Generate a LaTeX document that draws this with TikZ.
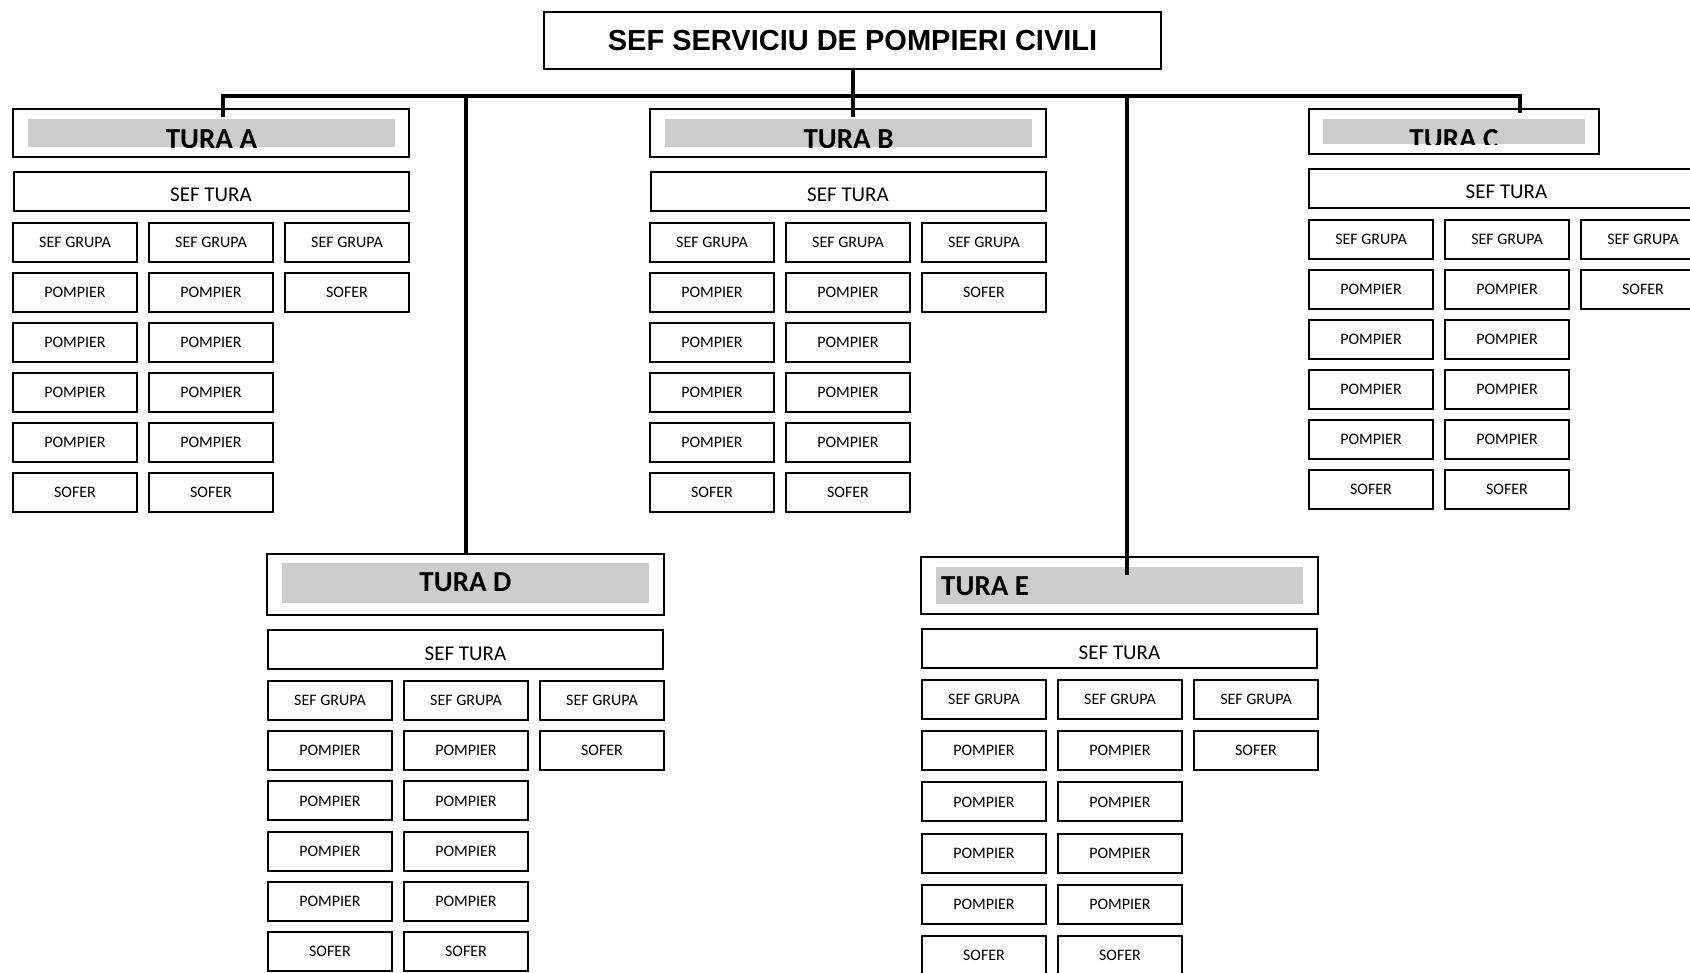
\documentclass[tikz,border=0pt]{standalone}
\usepackage{fontspec}
\setmainfont{Carlito}
\newfontfamily\arialfont{Liberation Sans}
\usepackage{tikz}
\usetikzlibrary{positioning}

\tikzset{
  boxline/.style={draw, line width=2pt, inner sep=0pt},
  cell/.style={boxline, minimum width=124pt, minimum height=39pt, font=\fontsize{16}{19}\selectfont},
  sefturabox/.style={boxline, minimum width=395pt, minimum height=39pt, text height=21pt, text depth=0pt, font=\fontsize{21}{25}\selectfont},
  turabox/.style={boxline, minimum width=396pt, minimum height=48pt},
  graybar/.style={fill=gray!40, inner sep=0pt},
  turatext/.style={inner sep=0pt, font=\bfseries\fontsize{29}{34}\selectfont},
  busline/.style={line width=4pt},
}

\newcommand{\grupe}[4]{%
  \foreach \rw/\cols in {1/{SEF GRUPA,SEF GRUPA,SEF GRUPA},2/{POMPIER,POMPIER,SOFER},3/{POMPIER,POMPIER},4/{POMPIER,POMPIER},5/{POMPIER,POMPIER},6/{SOFER,SOFER}}
    \foreach \lbl [count=\col] in \cols
      \node[cell] (#1-\rw-\col) at ({#2+63+(\col-1)*136},{#3+20.5+(\rw-1)*#4}) {\lbl};
}

\begin{document}
\begin{tikzpicture}[x=1pt, y=-1pt]
  \useasboundingbox (0,0) rectangle (1690,973);
  \clip (0,0) rectangle (1690,973);
  \fill[white] (0,0) rectangle (1690,973);

  \node[boxline, line width=2.5pt, minimum width=617pt, minimum height=57pt, font=\arialfont\bfseries\fontsize{29}{34}\selectfont] (sef) at (852.5,40.5) {SEF SERVICIU DE POMPIERI CIVILI};

  \node[turabox] (tA) at (211,133) {};
  \node[turabox] (tB) at (848,133) {};
  \node[turabox, minimum width=290pt, minimum height=45pt] (tC) at (1454,131.5) {};
  \node[turabox, minimum width=397pt, minimum height=61pt] (tD) at (465.5,584.5) {};
  \node[turabox, minimum width=397pt, minimum height=57pt] (tE) at (1119.5,585.5) {};

  \node[graybar, minimum width=367pt, minimum height=28pt] (gA) at (211.5,133) {};
  \node[graybar, minimum width=367pt, minimum height=28pt] (gB) at (848.5,133) {};
  \node[graybar, minimum width=262pt, minimum height=25pt] (gC) at (1454,131.5) {};
  \node[graybar, minimum width=367pt, minimum height=40pt] (gD) at (465.5,583) {};
  \node[graybar, minimum width=367pt, minimum height=37pt] (gE) at (1119.5,585.5) {};

  \begin{scope}
    \clip (gA.north west) rectangle (gA.south east);
    \node[turatext, anchor=base] (lA) at ([yshift=-1pt]gA.south) {TURA A};
  \end{scope}
  \begin{scope}
    \clip (gB.north west) rectangle (gB.south east);
    \node[turatext, anchor=base] (lB) at ([yshift=-1pt]gB.south) {TURA B};
  \end{scope}
  \begin{scope}
    \clip (gC.north west) rectangle (gC.south east);
    \node[turatext, anchor=base] (lC) at ([yshift=-4pt]gC.south) {TURA C};
  \end{scope}
  \node[turatext] (lD) at (465.5,582) {TURA D};
  \node[turatext, anchor=west] (lE) at (941,586) {TURA E};

  \node[sefturabox, below=13pt of tA] (sA) {SEF TURA};
  \node[sefturabox, below=13pt of tB] (sB) {SEF TURA};
  \node[sefturabox, below=13pt of tC.south west, anchor=north west] (sC) {SEF TURA};
  \node[sefturabox, below=13pt of tD] (sD) {SEF TURA};
  \node[sefturabox, below=13pt of tE] (sE) {SEF TURA};

  \grupe{A}{12}{222}{50}
  \grupe{B}{649}{222}{50}
  \grupe{C}{1308}{219}{50}
  \grupe{D}{267}{680}{50.2}
  \grupe{E}{921}{679}{51.2}

  \coordinate (bus) at (0,96);
  \coordinate (dA) at (223,117);
  \coordinate (dB) at (852.5,117);
  \coordinate (dC) at (1520,113);
  \coordinate (dE) at (1127,575);
  \draw[busline] (dA) -- (dA |- bus) -- (dC |- bus) -- (dC);
  \draw[busline] (sef.south) -- (dB);
  \draw[busline] (tD.north |- bus) -- (tD.north);
  \draw[busline] (dE |- bus) -- (dE);
\end{tikzpicture}
\end{document}
